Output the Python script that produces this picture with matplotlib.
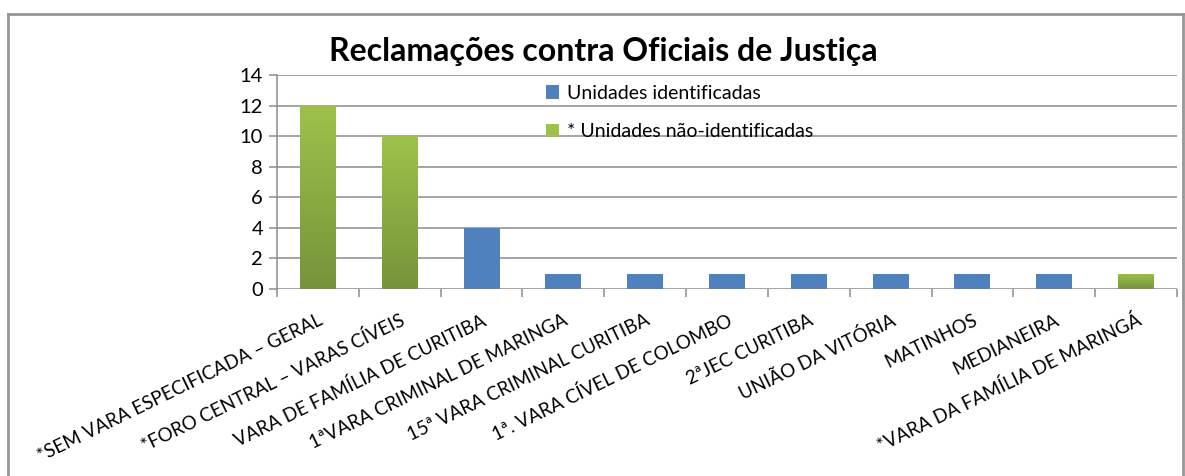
import matplotlib
matplotlib.use("Agg")
import matplotlib.pyplot as plt
from matplotlib.patches import Patch
from matplotlib.lines import Line2D
from matplotlib.colors import LinearSegmentedColormap
import numpy as np

plt.rcParams['font.family'] = ['Lato', 'DejaVu Sans']

# dados
categorias = ["*SEM VARA ESPECIFICADA – GERAL", "*FORO CENTRAL – VARAS CÍVEIS",
              "VARA DE FAMÍLIA DE CURITIBA", "1ªVARA CRIMINAL DE MARINGA",
              "15ª VARA CRIMINAL CURITIBA", "1ª. VARA CÍVEL DE COLOMBO",
              "2ªJEC CURITIBA", "UNIÃO DA VITÓRIA", "MATINHOS", "MEDIANEIRA",
              "*VARA DA FAMÍLIA DE MARINGÁ"]
valores = [12, 10, 4, 1, 1, 1, 1, 1, 1, 1, 1]
nao_identificada = [True, True, False, False, False, False, False, False, False, False, True]
y_ticks = [0, 2, 4, 6, 8, 10, 12, 14]

azul = "#4F81BD"
verde_claro = "#9DC24B"
verde_escuro = "#76933A"
cinza = "#8C8C8C"

W, H = 1185, 476
fig = plt.figure(figsize=(W / 100, H / 100), dpi=100)
ax = fig.add_axes([277 / W, 1 - 289 / H, 900 / W, 214 / H])

x = np.arange(len(categorias))
cores = [verde_escuro if n else azul for n in nao_identificada]
barras = ax.bar(x, valores, width=0.44, color=cores, zorder=3)

# gradiente nas barras verdes
grad = np.linspace(0, 1, 256).reshape(-1, 1)
cmap_verde = LinearSegmentedColormap.from_list("v", [verde_escuro, verde_claro])
for b, n in zip(barras, nao_identificada):
    if not n:
        continue
    x0, y0 = b.get_x(), b.get_y()
    w, h = b.get_width(), b.get_height()
    im = ax.imshow(grad, cmap=cmap_verde, aspect="auto", origin="lower",
                   extent=[x0, x0 + w, y0, y0 + h], zorder=4)
    im.set_clip_path(b)

ax.set_xlim(-0.5, len(categorias) - 0.5)
ax.set_ylim(0, 14)
ax.set_yticks(y_ticks)
ax.yaxis.grid(True, color=cinza, linewidth=1.1, zorder=0)
ax.set_axisbelow(True)

for s in ["top", "right", "bottom"]:
    ax.spines[s].set_visible(False)
ax.spines["left"].set_color(cinza)
ax.spines["left"].set_linewidth(1.1)

ax.tick_params(axis="y", length=6, color=cinza, width=1.1, labelsize=14.5, pad=4)
ax.set_xticks(x)
ax.set_xticklabels(categorias, rotation=26, ha="right", rotation_mode="anchor",
                   fontsize=13.5)
ax.tick_params(axis="x", length=0, pad=16)
ax.set_xticks(np.arange(len(categorias) + 1) - 0.5, minor=True)
ax.tick_params(axis="x", which="minor", length=6, color=cinza, width=1.1)

# título
fig.text(603 / W, 1 - 52 / H, "Reclamações contra Oficiais de Justiça",
         ha="center", va="center", fontsize=23, fontweight="bold")

# legenda
handles = [Patch(facecolor=azul), Patch(facecolor=verde_claro)]
ax.legend(handles, ["Unidades identificadas", "* Unidades não-identificadas"],
          loc="upper left", bbox_to_anchor=(0.29, 0.99), frameon=False,
          fontsize=14, handlelength=0.7, handleheight=0.7, handletextpad=0.4,
          labelspacing=1.1, borderaxespad=0)

# moldura
fx0, fx1, fy1 = 8 / W, 1183 / W, 1 - 14 / H
fig.add_artist(Line2D([fx0, fx1], [fy1, fy1], color="#969696", linewidth=2))
fig.add_artist(Line2D([fx0, fx0], [0, fy1], color="#969696", linewidth=2))
fig.add_artist(Line2D([fx1, fx1], [0, fy1], color="#969696", linewidth=2))

fig.savefig("out.png", dpi=100)
